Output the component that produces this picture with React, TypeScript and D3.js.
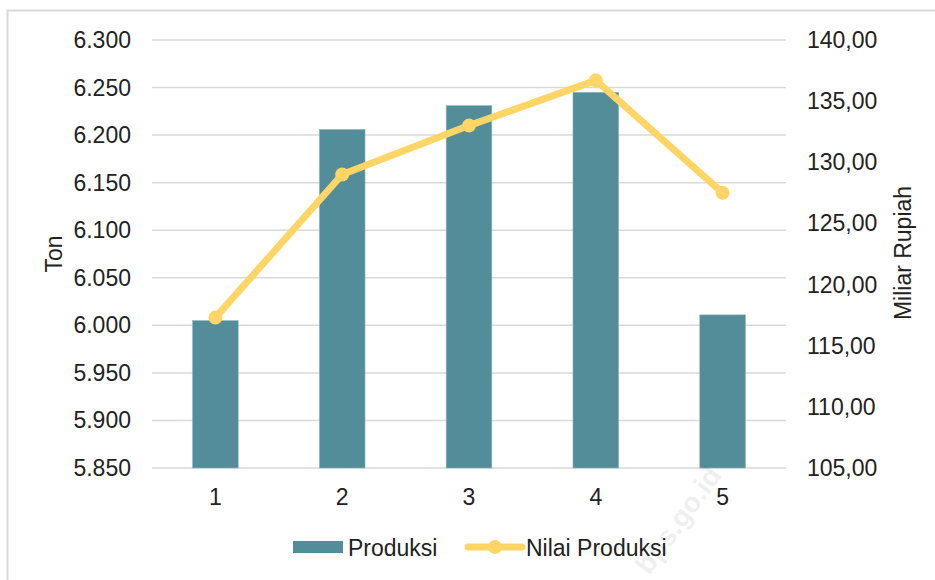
import React from "react";
import * as d3 from "d3";

const categories = ["1", "2", "3", "4", "5"];
const produksi = [6005, 6206, 6231, 6245, 6011];
const nilaiProduksi = [117.3, 129.0, 133.0, 136.7, 127.5];
const leftTicks = [5850, 5900, 5950, 6000, 6050, 6100, 6150, 6200, 6250, 6300];
const rightTicks = [105, 110, 115, 120, 125, 130, 135, 140];

const W = 935;
const H = 580;
const plot = { left: 152, right: 786, top: 40, bottom: 468 };
const FONT = "'Liberation Sans', Arial, sans-serif";
const FS = 23;
const INK = "#222";
const BAR = "#528d99";
const LINE = "#ffd566";

const fmtLeft = (v: number) => d3.format(",.3f")(v / 1000).replace(",", "");
const fmtRight = (v: number) => v.toFixed(2).replace(".", ",");

export default function App() {
  const x = d3
    .scaleBand<string>()
    .domain(categories)
    .range([plot.left, plot.right])
    .paddingInner(0.64)
    .paddingOuter(0.32);
  const yL = d3.scaleLinear().domain([5850, 6300]).range([plot.bottom, plot.top]);
  const yR = d3.scaleLinear().domain([105, 140]).range([plot.bottom, plot.top]);
  const cx = (c: string) => (x(c) ?? 0) + x.bandwidth() / 2;

  const linePath = d3
    .line<number>()
    .x((_, i) => cx(categories[i]))
    .y((d) => yR(d))(nilaiProduksi);

  return (
    <svg
      width={W}
      height={H}
      style={{ position: "absolute", left: 0, top: 0, background: "#fff" }}
      fontFamily={FONT}
    >
      <rect x={7.5} y={10.5} width={W + 20} height={H + 20} fill="#fff" stroke="#d9d9d9" strokeWidth={2} />

      {leftTicks.map((t) => (
        <line
          key={"g" + t}
          x1={plot.left}
          x2={plot.right}
          y1={yL(t)}
          y2={yL(t)}
          stroke="#d9d9d9"
          strokeWidth={1.5}
        />
      ))}

      {leftTicks.map((t) => (
        <text key={"l" + t} x={131} y={yL(t)} dy="0.35em" textAnchor="end" fontSize={FS} fill={INK}>
          {fmtLeft(t)}
        </text>
      ))}
      {rightTicks.map((t) => (
        <text key={"r" + t} x={807} y={yR(t)} dy="0.35em" textAnchor="start" fontSize={FS} fill={INK}>
          {fmtRight(t)}
        </text>
      ))}

      {produksi.map((v, i) => (
        <rect
          key={"b" + i}
          x={x(categories[i])}
          y={yL(v)}
          width={x.bandwidth()}
          height={plot.bottom - yL(v)}
          fill={BAR}
          stroke="#8fb7bf"
          strokeWidth={0.6}
        />
      ))}

      <path d={linePath ?? ""} fill="none" stroke={LINE} strokeWidth={7} strokeLinejoin="round" strokeLinecap="round" />
      {nilaiProduksi.map((v, i) => (
        <circle key={"p" + i} cx={cx(categories[i])} cy={yR(v)} r={7} fill={LINE} />
      ))}

      {categories.map((c) => (
        <text key={"x" + c} x={cx(c)} y={505} textAnchor="middle" fontSize={FS} fill={INK}>
          {c}
        </text>
      ))}

      <text transform={`translate(62,${(plot.top + plot.bottom) / 2}) rotate(-90)`} textAnchor="middle" fontSize={FS} fill={INK}>
        Ton
      </text>
      <text transform={`translate(911,${(plot.top + plot.bottom) / 2 - 1}) rotate(-90)`} textAnchor="middle" fontSize={FS} fill={INK}>
        Miliar Rupiah
      </text>

      <rect x={293} y={541} width={50} height={12} fill={BAR} />
      <text x={348} y={556} fontSize={FS} fill={INK}>Produksi</text>
      <line x1={468} x2={522} y1={547} y2={547} stroke={LINE} strokeWidth={7} strokeLinecap="round" />
      <circle cx={495} cy={547} r={7} fill={LINE} />
      <text x={526} y={556} fontSize={FS} fill={INK}>Nilai Produksi</text>

      <text
        transform="translate(678,520) rotate(-54)"
        textAnchor="middle"
        dy="0.35em"
        fontSize={28}
        fontWeight="bold"
        fill="#000"
        opacity={0.06}
      >
        bps.go.id
      </text>
    </svg>
  );
}
